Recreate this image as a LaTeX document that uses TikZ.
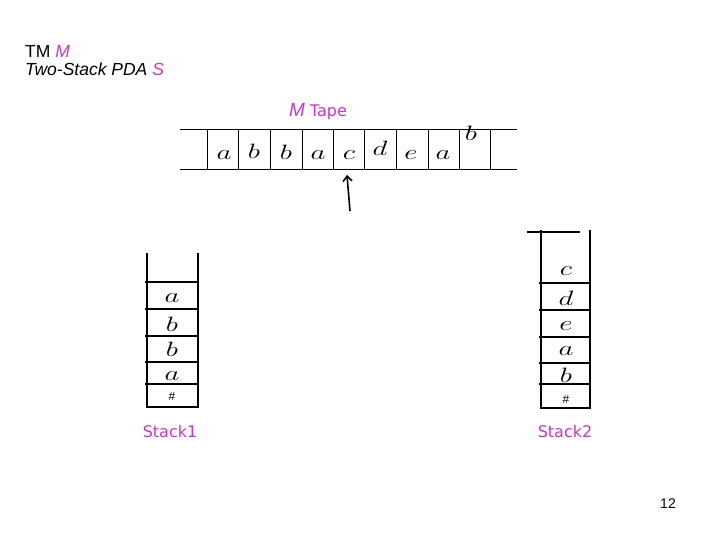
\documentclass[tikz,border=0pt]{standalone}
\usepackage{fontspec}
\setmainfont{Liberation Sans}
\newfontfamily\comicfont{DejaVu Sans}
\usepackage{graphicx}
\usetikzlibrary{arrows.meta}
\definecolor{labelpink}{RGB}{204,51,204}
\newcommand{\tapesym}[1]{\scalebox{1.4}[1]{$#1$}}

\begin{document}
\begin{tikzpicture}[x=1pt,y=-1pt,
    sym/.style={inner sep=0pt,font=\fontsize{21}{21}\selectfont},
    bottomsym/.style={inner sep=0pt,font=\fontsize{12}{12}\selectfont},
    lab/.style={inner sep=0pt,text=labelpink,font=\comicfont\fontsize{16}{18}\selectfont},
    wall/.style={line width=1.6pt}]
    \useasboundingbox (0,0) rectangle (720,540);
    % heading
    \node[anchor=base west,inner sep=0pt,font=\fontsize{17.5}{20}\selectfont] (tm) at (25,58)
        {TM \textcolor{labelpink}{\textit{M}}};
    \node[anchor=base west,inner sep=0pt,font=\fontsize{17.5}{20}\selectfont] (pda) at (25,75.5)
        {\textit{Two-Stack PDA \textcolor{labelpink}{S}}};
    % the tape of M
    \node[lab,anchor=base] (tapelab) at (318,117)
        {{\fontfamily{\rmdefault}\fontsize{19}{19}\selectfont\textit{M}} Tape};
    \draw (180,129) -- (517,129); \draw (180,169) -- (517,169);
    \foreach \x in {207,238,270,302,333,364,396,428,459,490}
        \draw (\x,129) -- (\x,169);
    \foreach \x/\y/\s [count=\i] in {224/155/a,254/151/b,286/152/b,318/155/a,349/155/c,
        380/148/d,411/155/e,443/155/a,471/133/b}
        \node[sym] (t\i) at (\x,\y) {\tapesym{\s}};
    % head of M
    \coordinate (tail) at (350,211); \coordinate (head) at (347,175);
    \draw[wall,-{Straight Barb[length=5pt,width=9pt]}] (tail) -- (head);
    % Stack1
    \draw[wall] (147,253) -- (147,407) -- (198,407) -- (198,253);
    \foreach \y in {282,309,336,362,384}
        \draw[wall] (145,\y) -- (198,\y);
    \foreach \y/\s [count=\i] in {298/a,324/b,349/b,376/a}
        \node[sym] (p\i) at (172,\y) {\tapesym{\s}};
    \node[bottomsym] (pbot) at (172,396) {\#};
    \node[lab] (stacka) at (170,432) {Stack1};
    % Stack2
    \draw[wall] (541,230) -- (541,408) -- (590,408) -- (590,230);
    \draw[wall] (527,232) -- (580,232);
    \foreach \y in {283,310,337,363,384}
        \draw[wall] (539,\y) -- (590,\y);
    \foreach \y/\s [count=\i] in {271/c,298/d,326/e,351/a,375/b}
        \node[sym] (q\i) at (566,\y) {\tapesym{\s}};
    \node[bottomsym] (qbot) at (566,399) {\#};
    \node[lab] (stackb) at (565,432) {Stack2};
    % page number
    \node[inner sep=0pt,font=\fontsize{14}{14}\selectfont] (page) at (668,504) {12};
\end{tikzpicture}
\end{document}
